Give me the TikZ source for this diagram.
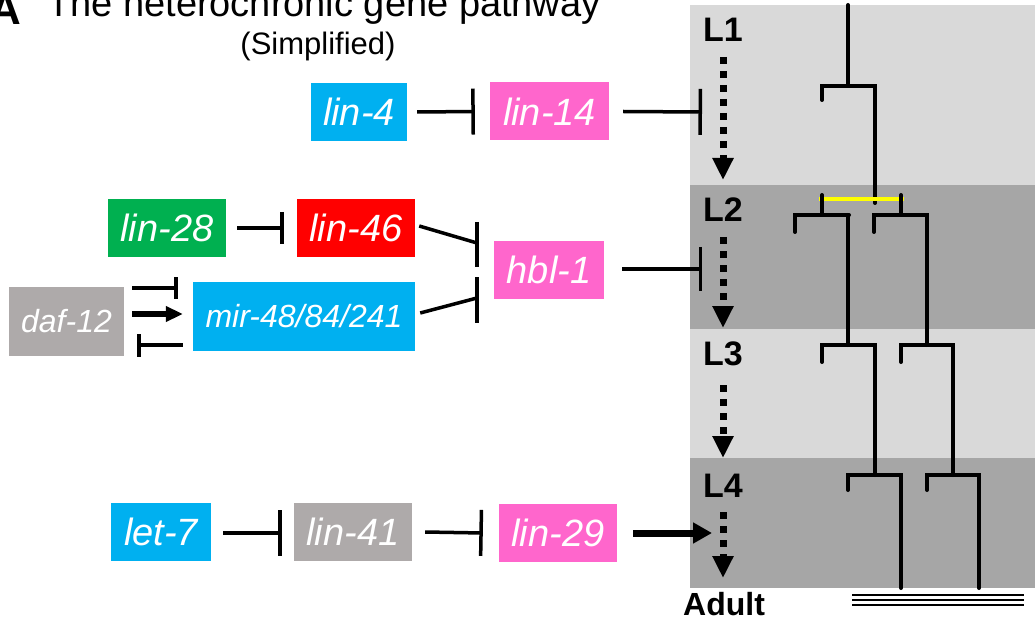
\documentclass[tikz,border=0pt]{standalone}
\usepackage{fontspec}
\setmainfont{Liberation Sans}
\usetikzlibrary{arrows.meta}
\definecolor{cyanbox}{HTML}{00B0F0}
\definecolor{pinkbox}{HTML}{FF66CC}
\definecolor{greenbox}{HTML}{00B050}
\definecolor{redbox}{HTML}{FF0000}
\definecolor{graybox}{HTML}{AEAAAA}
\definecolor{bandlight}{HTML}{D9D9D9}
\definecolor{banddark}{HTML}{A6A6A6}
\definecolor{yel}{HTML}{FFFF00}
\begin{document}
\begin{tikzpicture}[x=1pt,y=-1pt,
  gene/.style={fill=#1, text=white, font=\fontsize{38}{42}\selectfont\itshape, inner sep=0pt, minimum height=58pt, anchor=center},
  gsmall/.style={fill=#1, text=white, font=\fontsize{32}{36}\selectfont\itshape, inner sep=0pt, minimum height=69pt, anchor=center},
  ln/.style={line width=3.5pt},
  inh/.style={line width=3.5pt, -{Bar[width=#1]}},
  thickarr/.style={line width=6pt, -{Triangle[length=17pt,width=15pt]}},
  bigarr/.style={line width=7pt, -{Triangle[length=19pt,width=20pt]}},
  dotarr/.style={line width=7pt, dash pattern=on 7pt off 7pt, -{Triangle[length=22pt,width=20pt]}},
  tree/.style={line width=4pt, line cap=round},
  stage/.style={font=\fontsize{34}{40}\selectfont\bfseries, inner sep=0pt, anchor=base west},
]
\useasboundingbox (0,0) rectangle (1035,620);

% title
\node[font=\fontsize{44}{50}\selectfont\bfseries, inner sep=0pt, anchor=base east] (panelA) at (21,25) {A};
\node[font=\fontsize{38}{44}\selectfont, inner sep=0pt, anchor=base west] (title) at (47,17) {The heterochronic gene pathway};
\node[font=\fontsize{31}{34}\selectfont, inner sep=0pt, anchor=base] (simp) at (318,55) {(Simplified)};

% right panel bands
\fill[bandlight] (690,5) rectangle (1035,185);
\fill[banddark] (690,185) rectangle (1035,329);
\fill[bandlight] (690,329) rectangle (1035,458);
\fill[banddark] (690,458) rectangle (1035,588);

% stage labels
\node[stage] (L1) at (703,42) {L1};
\node[stage] (L2) at (703,222) {L2};
\node[stage] (L3) at (703,365) {L3};
\node[stage] (L4) at (703,497) {L4};
\node[font=\fontsize{32}{36}\selectfont\bfseries, inner sep=0pt, anchor=base west] (adult) at (683,615) {Adult};

% dotted stage arrows
\coordinate (d1a) at (723,57);  \coordinate (d1b) at (723,180);
\coordinate (d2a) at (723,237); \coordinate (d2b) at (723,328);
\coordinate (d3a) at (723,385); \coordinate (d3b) at (723,458);
\coordinate (d4a) at (723,512); \coordinate (d4b) at (723,578);
\draw[dotarr] (d1a) -- (d1b);
\draw[dotarr] (d2a) -- (d2b);
\draw[dotarr] (d3a) -- (d3b);
\draw[dotarr] (d4a) -- (d4b);

% lineage tree
\draw[tree] (848,5) -- (848,86);
\draw[tree] (822,100) -- (822,86) -- (875,86) -- (875,203);
\draw[line width=4pt, yel] (819,199) -- (904,199);
\draw[tree] (822,195) -- (822,215);
\draw[tree] (901,195) -- (901,215);
\draw[tree] (795,232) -- (795,215) -- (849,215);
\draw[tree] (848,215) -- (848,345);
\draw[tree] (874,232) -- (874,215) -- (927,215) -- (927,345);
\draw[tree] (822,362) -- (822,345) -- (875,345) -- (875,475);
\draw[tree] (901,362) -- (901,345) -- (953,345) -- (953,475);
\draw[tree] (848,490) -- (848,475) -- (901,475) -- (901,588);
\draw[tree] (927,490) -- (927,475) -- (979,475) -- (979,588);
\foreach \yy in {595,600,605} \draw[line width=1.6pt] (852,\yy) -- (1024,\yy);

% gene boxes
\node[gene=cyanbox, minimum width=96pt] (lin4) at (359,112) {lin-4};
\node[gene=pinkbox, minimum width=119pt] (lin14) at (549.5,111.5) {lin-14};
\node[gene=greenbox, minimum width=118pt] (lin28) at (167,228) {lin-28};
\node[gene=redbox, minimum width=118pt] (lin46) at (356,228) {lin-46};
\node[gsmall=graybox, minimum width=115pt] (daf12) at (66.5,321.5) {daf-12};
\node[gsmall=cyanbox, minimum width=222pt] (mir) at (304,316.5) {mir-48/84/241};
\node[gene=pinkbox, minimum width=110pt] (hbl1) at (549,270) {hbl-1};
\node[gene=cyanbox, minimum width=100pt] (let7) at (161,532) {let-7};
\node[gene=graybox, minimum width=118pt] (lin41) at (353,532) {lin-41};
\node[gene=pinkbox, minimum width=118pt] (lin29) at (558,533) {lin-29};

% connectors
\coordinate (l1in) at (702,112);
\coordinate (l2in) at (702,269);
\coordinate (l4in) at (712,533);
\draw[inh=46pt] ([xshift=10pt]lin4.east) -- ([xshift=-15pt]lin14.west);
\draw[inh=46pt] ([xshift=14pt]lin14.east) -- (l1in);
\draw[inh=32pt] ([xshift=11pt]lin28.east) -- ([xshift=-13pt]lin46.west);
\coordinate (hbA) at (477,243);
\coordinate (hbB) at (477,298);
\draw[ln] ([xshift=4pt,yshift=2pt]lin46.east) -- (hbA);
\draw[ln] ([yshift=21pt]hbA) -- ([yshift=-24pt]hbA);
\draw[ln] ([xshift=5pt,yshift=3.5pt]mir.east) -- (hbB);
\draw[ln] ([yshift=21pt]hbB) -- ([yshift=-25pt]hbB);
\draw[inh=44pt] ([xshift=18pt,yshift=1pt]hbl1.east) -- (l2in);
\draw[inh=22pt] ([xshift=8pt,yshift=33.5pt]daf12.east) -- ([xshift=-15pt,yshift=28.5pt]mir.west);
\draw[thickarr] ([xshift=8pt,yshift=7.5pt]daf12.east) -- ([xshift=-10pt,yshift=2.5pt]mir.west);
\draw[inh=23pt] ([xshift=-10pt,yshift=-28.5pt]mir.west) -- ([xshift=13pt,yshift=-23.5pt]daf12.east);
\draw[inh=46pt] ([xshift=12pt,yshift=-1pt]let7.east) -- ([xshift=-12pt,yshift=-1pt]lin41.west);
\draw[inh=46pt] ([xshift=13pt]lin41.east) -- ([xshift=-16pt]lin29.west);
\draw[bigarr] ([xshift=16pt]lin29.east) -- (l4in);
\end{tikzpicture}
\end{document}
